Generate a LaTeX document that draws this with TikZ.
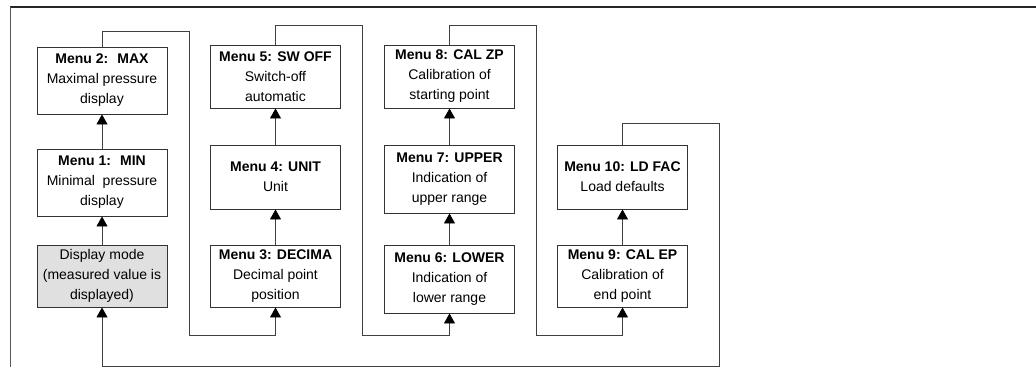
\documentclass[tikz,border=0pt]{standalone}
\usepackage{fontspec}
\setmainfont{Liberation Sans}
\usetikzlibrary{arrows.meta}

\begin{document}
\begin{tikzpicture}[x=1pt, y=-1pt,
		menu/.style={draw=black!80, line width=0.9pt, minimum width=130pt, inner sep=1pt, align=center, font=\fontsize{14}{20}\selectfont},
		link/.style={-{Triangle[width=11pt,length=10pt,fill=black,color=black]}, line width=0.9pt, draw=black!75}]
		\useasboundingbox (0,0) rectangle (1036,367);

		% frame
		\draw[line width=1.4pt, black!85] (1036,7) -- (10,7);
		\draw[line width=0.9pt, black!65] (10,7) -- (10,367);

		\node[menu, minimum height=67pt] (m2) at (102, 80.5) {\textbf{Menu 2: \ MAX}\\Maximal pressure\\display};
		\node[menu, minimum height=67pt] (m1) at (102, 182.5) {\textbf{Menu 1: \ MIN}\\Minimal \ pressure\\display};
		\node[menu, minimum height=62pt, fill=black!12] (disp) at (102, 276) {Display mode\\(measured value is\\displayed)};

		\node[menu, minimum height=63pt] (m5) at (275.5, 76.5) {\textbf{Menu 5: SW OFF}\\Switch-off\\automatic};
		\node[menu, minimum height=64pt] (m4) at (275.5, 177) {\textbf{Menu 4: UNIT}\\Unit};
		\node[menu, minimum height=62pt] (m3) at (275.5, 276) {\textbf{Menu 3: DECIMA}\\Decimal point\\position};

		\node[menu, minimum height=63pt] (m8) at (449.5, 76.5) {\textbf{Menu 8: CAL ZP}\\Calibration of\\starting point};
		\node[menu, minimum height=68pt] (m7) at (449.5, 179) {\textbf{Menu 7: UPPER}\\Indication of\\upper range};
		\node[menu, minimum height=68pt] (m6) at (449.5, 279) {\textbf{Menu 6: LOWER}\\Indication of\\lower range};

		\node[menu, minimum height=64pt] (m10) at (622.5, 177) {\textbf{Menu 10: LD FAC}\\Load defaults};
		\node[menu, minimum height=62pt] (m9) at (622.5, 276) {\textbf{Menu 9: CAL EP}\\Calibration of\\end point};

		% corners of the return lines
		\coordinate (t1) at (189, 31);
		\coordinate (b1) at (189, 335);
		\coordinate (t2) at (362, 25);
		\coordinate (b2) at (362, 335);
		\coordinate (t3) at (536, 25);
		\coordinate (b3) at (536, 335);
		\coordinate (t4) at (719, 123);
		\coordinate (b4) at (719, 366);

		% up the columns
		\path [link] (disp) edge (m1);
		\path [link] (m1) edge (m2);
		\path [link] (m3) edge (m4);
		\path [link] (m4) edge (m5);
		\path [link] (m6) edge (m7);
		\path [link] (m7) edge (m8);
		\path [link] (m9) edge (m10);

		% over to the next column
		\draw [link] (m2.north) |- (t1) -- (b1) -| (m3.south);
		\draw [link] (m5.north) |- (t2) -- (b2) -| (m6.south);
		\draw [link] (m8.north) |- (t3) -- (b3) -| (m9.south);
		\draw [link] (m10.north) |- (t4) -- (b4) -| (disp.south);

\end{tikzpicture}
\end{document}
